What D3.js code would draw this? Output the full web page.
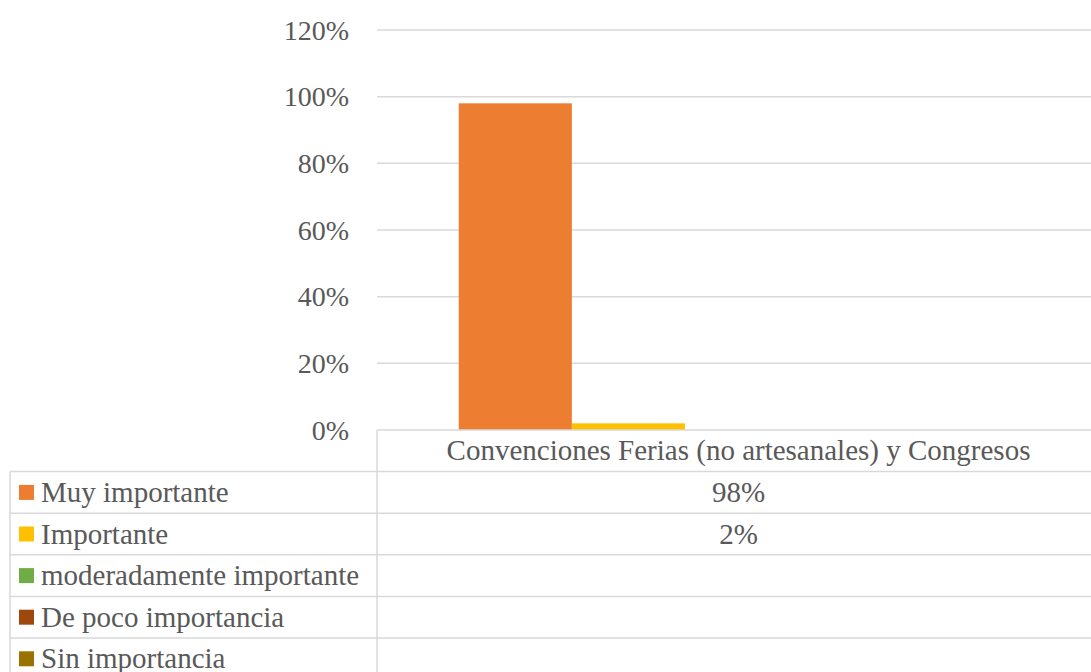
<!doctype html>
<html>
<head>
  <meta charset="utf8">
  <title>chart</title>
  <style>
    body { margin: 0; padding: 0; background: #fff; }
    svg { display: block; }
  </style>
</head>
<body>
  <svg></svg>
  <script src="https://cdn.jsdelivr.net/npm/d3@7"></script>
  <script>
    const categories = ['Convenciones Ferias (no artesanales) y Congresos']
    const seriesNames = ['Muy importante', 'Importante', 'moderadamente importante', 'De poco importancia', 'Sin importancia']
    const seriesColors = ['#ED7D31', '#FFC000', '#70AD47', '#9E480E', '#997300']
    const seriesValues = [[0.98], [0.02], [null], [null], [null]]
    const yTicks = [0, 0.2, 0.4, 0.6, 0.8, 1.0, 1.2]

    const width = 1091
    const height = 672
    const axisFont = 28
    const tableFont = 29
    const fontFamily = "'Liberation Serif', 'Times New Roman', 'DejaVu Serif', serif"

    const plotLeft = 377
    const plotTop = 30
    const plotBottom = 430
    const tableLeft = 10
    const rowH = 41.6

    const svg = d3.select('svg')
      .attr('width', width)
      .attr('height', height)
      .attr('font-family', fontFamily)

    const y = d3.scaleLinear().domain([0, 1.2]).range([plotBottom, plotTop])

    // plot area runs a little past the right edge of the picture
    const x0 = d3.scaleBand()
      .domain(categories)
      .range([379, 1104])
      .paddingInner(0.22)
      .paddingOuter(0.11)

    const x1 = d3.scaleBand()
      .domain(seriesNames)
      .range([0, x0.bandwidth()])

    const txt = size => sel => sel
      .attr('font-family', fontFamily)
      .style('font-size', size + 'px')
      .style('fill', '#595959')

    // gridlines
    svg.append('g')
      .selectAll('line')
      .data(yTicks.filter(d => d > 0))
      .join('line')
      .attr('x1', plotLeft)
      .attr('x2', width + 20)
      .attr('y1', d => y(d))
      .attr('y2', d => y(d))
      .style('stroke', '#d9d9d9')
      .style('stroke-width', 1.5)

    // y labels
    svg.append('g')
      .selectAll('text')
      .data(yTicks)
      .join('text')
      .attr('x', 349)
      .attr('y', d => y(d))
      .attr('dy', '0.35em')
      .style('text-anchor', 'end')
      .call(txt(axisFont))
      .text(d => d3.format('.0%')(d))

    // bars
    const groups = svg.append('g')
      .selectAll('g')
      .data(seriesNames.map((name, i) => ({ name, color: seriesColors[i], values: seriesValues[i] })))
      .join('g')
      .style('fill', d => d.color)

    groups.selectAll('rect')
      .data(d => d.values.map((v, j) => ({ name: d.name, cat: categories[j], v })))
      .join('rect')
      .filter(d => d.v != null)
      .attr('x', d => x0(d.cat) + x1(d.name))
      .attr('width', x1.bandwidth())
      .attr('y', d => y(d.v))
      .attr('height', d => y(0) - y(d.v))

    // data table
    const table = svg.append('g')
    const lineStyle = sel => sel.style('stroke', '#d9d9d9').style('stroke-width', 1.5)

    // axis / table top
    table.append('line')
      .attr('x1', plotLeft).attr('x2', width + 20)
      .attr('y1', plotBottom).attr('y2', plotBottom)
      .call(lineStyle)

    const rowTop = i => plotBottom + rowH * (i + 1)

    d3.range(seriesNames.length + 1).forEach(i => {
      table.append('line')
        .attr('x1', tableLeft).attr('x2', width + 20)
        .attr('y1', rowTop(i)).attr('y2', rowTop(i))
        .call(lineStyle)
    })

    table.append('line')
      .attr('x1', tableLeft).attr('x2', tableLeft)
      .attr('y1', rowTop(0)).attr('y2', height + 20)
      .call(lineStyle)
    table.append('line')
      .attr('x1', plotLeft).attr('x2', plotLeft)
      .attr('y1', plotBottom).attr('y2', height + 20)
      .call(lineStyle)

    const colCenter = c => x0(c) + x0.bandwidth() / 2 - 3

    // header
    table.selectAll('text.cat')
      .data(categories)
      .join('text')
      .attr('class', 'cat')
      .attr('x', d => colCenter(d))
      .attr('y', plotBottom + rowH / 2)
      .attr('dy', '0.33em')
      .style('text-anchor', 'middle')
      .call(txt(tableFont))
      .text(d => d)

    // row labels + keys
    const rows = table.selectAll('g.row')
      .data(seriesNames.map((name, i) => ({ name, color: seriesColors[i], values: seriesValues[i], i })))
      .join('g')
      .attr('class', 'row')
      .attr('transform', d => `translate(0, ${rowTop(d.i) + rowH / 2})`)

    rows.append('rect')
      .attr('x', 19)
      .attr('y', -7.5)
      .attr('width', 15)
      .attr('height', 15)
      .style('fill', d => d.color)

    rows.append('text')
      .attr('x', 41)
      .attr('dy', '0.33em')
      .call(txt(tableFont))
      .text(d => d.name)

    rows.selectAll('text.val')
      .data(d => d.values.map((v, j) => ({ v, cat: categories[j] })).filter(c => c.v != null))
      .join('text')
      .attr('class', 'val')
      .attr('x', d => colCenter(d.cat))
      .attr('dy', '0.33em')
      .style('text-anchor', 'middle')
      .call(txt(tableFont))
      .text(d => d3.format('.0%')(d.v))
  </script>
</body>
</html>
